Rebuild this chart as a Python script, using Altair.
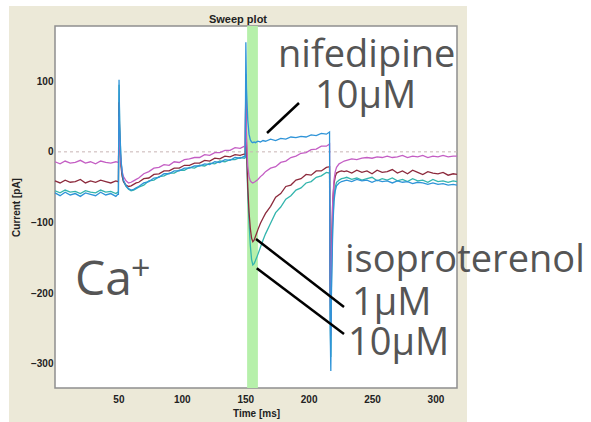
import altair as alt
import pandas as pd

# ---- time base (ms) ----
T = [0, 4, 8, 12, 16, 20, 24, 28, 32, 36, 40, 44, 48, 49.5,
     50, 50.5, 51, 52, 53, 54, 56, 58, 60, 62, 64,
     66, 70, 74, 78, 82, 86, 90, 94, 98, 102, 106, 110, 114, 118, 122, 126, 130, 134, 138, 142, 146, 149.5,
     150, 150.5, 151, 152, 153, 154, 155, 156, 157, 158, 160, 162, 164,
     166, 170, 174, 178, 182, 186, 190, 194, 198, 202, 206, 210, 214, 216.5,
     217, 217.5, 218, 219, 220, 221, 222, 224, 226, 228,
     230, 234, 238, 242, 246, 250, 254, 258, 262, 266, 270, 274, 278, 282, 286, 290, 294, 298, 302, 306, 310, 314, 317]

# ---- currents (pA) ----
MAGENTA = [-14, -17, -13, -16, -15, -12, -16, -14, -17, -13, -15, -16, -14, -15,
           -15, 50, 10, -15, -28, -35, -41, -44, -43, -41, -39,
           -37, -31, -28, -23, -22, -18, -19, -14, -15, -11, -10, -8, -8, -4, -5, -1, -1, 2, 2, 6, 5, 8,
           8, 90, 20, -20, -35, -41, -43, -44, -43, -42, -39, -35, -32,
           -28, -23, -21, -15, -13, -8, -6, -2, -1, 3, 4, 8, 8, 11,
           -200, -260, -150, -70, -40, -28, -22, -17, -15, -13,
           -12, -10, -11, -9, -8, -9, -7, -8, -6, -8, -7, -5, -8, -6, -7, -5, -8, -6, -7, -5, -7, -6, -6]

MAROON = [-41, -44, -40, -43, -42, -39, -44, -41, -43, -40, -42, -44, -41, -42,
          -42, 70, 20, -20, -35, -42, -47, -49, -48, -46, -44,
          -43, -38, -37, -32, -31, -27, -27, -23, -23, -19, -19, -16, -16, -12, -13, -9, -10, -6, -7, -4, -5, -3,
          -4, 100, 10, -50, -85, -108, -122, -127, -125, -120, -110, -101, -94,
          -87, -77, -64, -59, -49, -47, -40, -38, -32, -33, -27, -27, -22, -21,
          -180, -240, -140, -70, -45, -35, -30, -28, -27, -28,
          -27, -30, -26, -29, -27, -31, -26, -29, -28, -25, -30, -27, -31, -26, -29, -32, -28, -30, -31, -29, -33, -31, -32]

BLUE = [-58, -62, -57, -61, -59, -63, -58, -60, -62, -57, -61, -59, -63, -60,
        -60, 102, 40, -10, -30, -40, -48, -52, -54, -53, -51,
        -49, -44, -42, -37, -36, -31, -31, -27, -27, -23, -23, -20, -20, -17, -18, -14, -15, -11, -12, -8, -9, -6,
        -7, 155, 90, 45, 25, 17, 14, 13, 14, 13, 15, 14, 16,
        15, 18, 16, 19, 18, 21, 20, 22, 21, 24, 23, 26, 25, 28,
        -250, -310, -200, -110, -70, -55, -48, -44, -42, -41,
        -40, -42, -39, -41, -40, -43, -40, -42, -41, -44, -41, -43, -42, -45, -43, -44, -46, -44, -46, -45, -47, -46, -47]

TEAL = [-55, -58, -54, -57, -56, -59, -55, -57, -58, -54, -57, -56, -59, -57,
        -57, 95, 35, -12, -32, -42, -49, -53, -55, -54, -52,
        -50, -47, -41, -40, -35, -34, -30, -30, -26, -26, -22, -23, -19, -20, -16, -17, -13, -14, -11, -11, -8, -9,
        -8, 110, 0, -60, -100, -132, -152, -160, -158, -154, -145, -135, -125,
        -116, -101, -86, -78, -67, -62, -54, -51, -44, -42, -36, -34, -29, -30,
        -230, -290, -180, -100, -65, -50, -43, -40, -38, -37,
        -36, -39, -37, -40, -38, -36, -41, -38, -40, -37, -41, -39, -42, -38, -41, -40, -43, -39, -42, -41, -43, -41, -42]

SERIES = [("teal", TEAL), ("maroon", MAROON), ("magenta", MAGENTA), ("blue", BLUE)]
COLORS = {"teal": "#33b5ad", "maroon": "#8c2a3c", "magenta": "#c45ec4", "blue": "#2f94d8"}

X_DOMAIN = [0, 317]
Y_DOMAIN = [-334, 178]
X_TICKS = [50, 100, 150, 200, 250, 300]
Y_TICKS = [-300, -200, -100, 0, 100]

BAND = pd.DataFrame({"start": [151.5], "end": [160]})

BIG_LABELS = pd.DataFrame({
    "text": ["nifedipine", "10μM", "isoproterenol", "1μM", "10μM"],
    "x": [175.9, 205, 228.7, 234.2, 231],
    "y": [120, 62, -170, -230.8, -287],
})
CA_LABEL = pd.DataFrame({"text": ["Ca"], "x": [15.8], "y": [-202.5]})
PLUS_LABEL = pd.DataFrame({"text": ["+"], "x": [60.0], "y": [-181]})

POINTERS = pd.DataFrame({
    "x": [167.2, 158.5, 159.1],
    "y": [26.7, -123.3, -164.7],
    "x2": [192.4, 227.9, 227.9],
    "y2": [69.1, -219.4, -257.6],
})

W, H = 402, 362

xscale = alt.Scale(domain=X_DOMAIN, nice=False, zero=False)
yscale = alt.Scale(domain=Y_DOMAIN, nice=False, zero=False)

axis_common = dict(labelFont="Liberation Sans", labelFontWeight="bold", labelFontSize=10,
                   labelColor="#222222", titleFont="Liberation Sans", titleFontWeight="bold",
                   titleFontSize=10, titleColor="#222222", ticks=False, domain=False,
                   grid=False, zindex=1)
xaxis = alt.Axis(values=X_TICKS, title="Time [ms]", labelPadding=6, titlePadding=4, **axis_common)
yaxis = alt.Axis(values=Y_TICKS, title="Current [pA]", labelPadding=2, titlePadding=9, **axis_common)

one = pd.DataFrame({"k": [0]})

panel = alt.Chart(one).mark_rect(color="#ece9d8", clip=False).encode(
    x=alt.value(-46), x2=alt.value(W + 10), y=alt.value(-20), y2=alt.value(H + 34))
plotbg = alt.Chart(one).mark_rect(fill="white", stroke="#8f8f8f", strokeWidth=1.5).encode(
    x=alt.value(0), x2=alt.value(W), y=alt.value(0), y2=alt.value(H))

band = alt.Chart(BAND).mark_rect(color="#b6f0aa").encode(
    x=alt.X("start:Q", scale=xscale, axis=xaxis), x2="end:Q")

zero = alt.Chart(one).mark_rule(color="#c8b4b4", strokeDash=[3, 3], strokeWidth=1).encode(
    y=alt.Y(datum=0, scale=yscale, axis=yaxis))

layers = [panel, plotbg, band, zero]
for name, vals in SERIES:
    d = pd.DataFrame({"t": T, "current": vals})
    layers.append(
        alt.Chart(d).mark_line(color=COLORS[name], strokeWidth=1.3).encode(
            x=alt.X("t:Q", scale=xscale, axis=xaxis),
            y=alt.Y("current:Q", scale=yscale, axis=yaxis),
        )
    )

pointers = alt.Chart(POINTERS).mark_rule(color="black", strokeWidth=2.5).encode(
    x=alt.X("x:Q", scale=xscale, axis=xaxis), y=alt.Y("y:Q", scale=yscale, axis=yaxis),
    x2="x2:Q", y2="y2:Q")

big = alt.Chart(BIG_LABELS).mark_text(font="Open Sans", fontSize=38, color="#555555",
                                      align="left", baseline="alphabetic").encode(
    x=alt.X("x:Q", scale=xscale, axis=xaxis), y=alt.Y("y:Q", scale=yscale, axis=yaxis), text="text:N")
ca = alt.Chart(CA_LABEL).mark_text(font="Open Sans", fontSize=48, color="#555555",
                                   align="left", baseline="alphabetic").encode(
    x=alt.X("x:Q", scale=xscale, axis=xaxis), y=alt.Y("y:Q", scale=yscale, axis=yaxis), text="text:N")
plus = alt.Chart(PLUS_LABEL).mark_text(font="Open Sans", fontSize=34, color="#555555",
                                       align="left", baseline="alphabetic").encode(
    x=alt.X("x:Q", scale=xscale, axis=xaxis), y=alt.Y("y:Q", scale=yscale, axis=yaxis), text="text:N")

layers += [pointers, big, ca, plus]

chart = alt.layer(*layers).properties(
    width=W, height=H,
    padding={"left": 55, "top": 26, "right": 134, "bottom": 34},
    autosize=alt.AutoSizeParams(type="none"),
    title=alt.TitleParams("Sweep plot", font="Liberation Sans", fontSize=11, fontWeight="bold",
                          color="#222222", anchor="middle", frame="group", dx=-18, offset=-28,
                          baseline="alphabetic", zindex=1),
).configure_view(stroke=None).configure(background="white")

chart.save("out.html", embed_options={"renderer": "svg", "actions": False})
